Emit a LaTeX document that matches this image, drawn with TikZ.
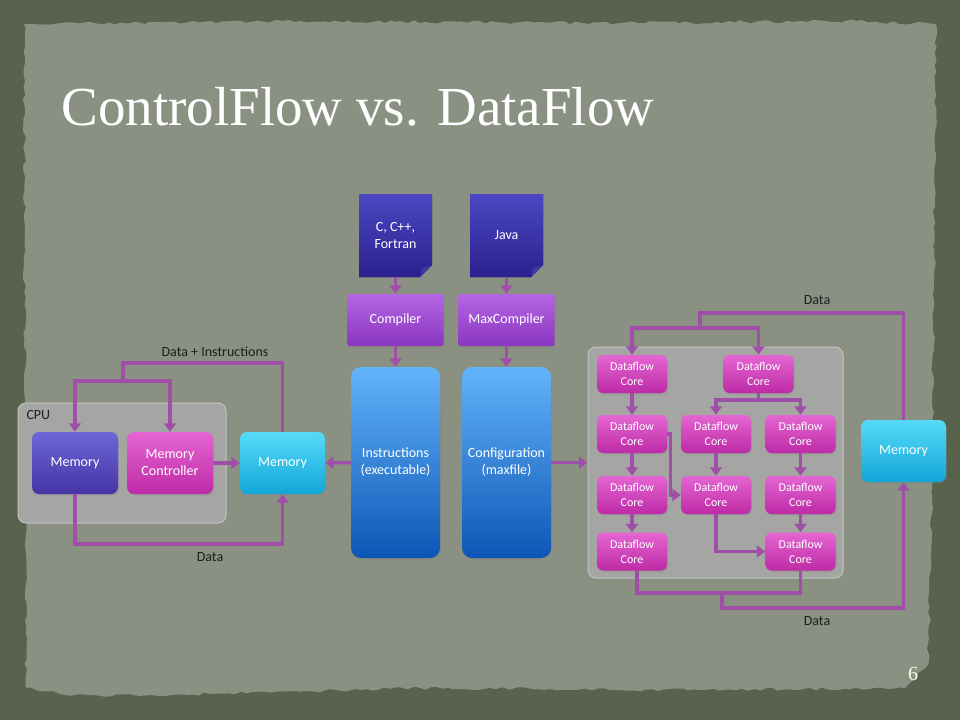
\documentclass[tikz,border=0pt]{standalone}
\usepackage{fontspec}
\setmainfont{Carlito}
\newfontfamily\titlefont{Liberation Serif}
\usepackage{tikz}
\usetikzlibrary{arrows.meta,calc,shadows,decorations.pathmorphing}
\definecolor{slate}{HTML}{58624C}
\definecolor{paper}{HTML}{8A9183}
\definecolor{flowpurple}{HTML}{A04FA8}
\definecolor{grpfill}{HTML}{A5A6A3}
\definecolor{grpline}{HTML}{C2C3C0}
\definecolor{labeltext}{HTML}{1E1E1E}
\definecolor{memT}{HTML}{6C66D6}
\definecolor{memB}{HTML}{4534A6}
\definecolor{pinkT}{HTML}{E466D2}
\definecolor{pinkB}{HTML}{BE2AA6}
\definecolor{cyanT}{HTML}{56DAF8}
\definecolor{cyanB}{HTML}{12A6D8}
\definecolor{docT}{HTML}{4C48C2}
\definecolor{docB}{HTML}{2A208E}
\definecolor{docF}{HTML}{3E38A8}
\definecolor{compT}{HTML}{B466E2}
\definecolor{compB}{HTML}{8A36C0}
\definecolor{exeT}{HTML}{62B4FA}
\definecolor{exeB}{HTML}{0E56B6}

\begin{document}
\begin{tikzpicture}[x=1pt,y=-1pt,
  font=\fontsize{14}{17}\selectfont,
  >={Triangle[width=12pt,length=8.5pt]},
  link/.style={draw=flowpurple, line width=3.2pt},
  lbl/.style={text=labeltext},
  group/.style={fill=grpfill, draw=grpline, line width=1pt, rounded corners=8pt},
  box/.style={rounded corners=7pt, text=white, align=center,
    minimum width=86pt, minimum height=62pt,
    drop shadow={shadow xshift=1pt,shadow yshift=-1.5pt,opacity=.3}},
  memory/.style={box, top color=memT, bottom color=memB},
  ctrl/.style={box, top color=pinkT, bottom color=pinkB},
  store/.style={box, top color=cyanT, bottom color=cyanB, minimum width=85pt},
  core/.style={box, top color=pinkT, bottom color=pinkB, minimum width=70pt,
    minimum height=38pt, rounded corners=6pt, font=\fontsize{12}{15}\selectfont},
  compiler/.style={box, top color=compT, bottom color=compB, rounded corners=2pt,
    minimum width=96pt, minimum height=52pt},
  binary/.style={box, top color=exeT, bottom color=exeB, rounded corners=10pt,
    minimum width=89pt, minimum height=191pt},
  srcfile/.style={minimum width=73pt, minimum height=83pt, text=white, align=center,
    path picture={
      \fill[top color=docT, bottom color=docB] (path picture bounding box.north west)
        -- (path picture bounding box.north east)
        -- ([yshift=12pt]path picture bounding box.south east)
        -- ([xshift=-12pt]path picture bounding box.south east)
        -- (path picture bounding box.south west) -- cycle;
      \fill[docF] ([yshift=12pt]path picture bounding box.south east)
        -- ([xshift=-12pt]path picture bounding box.south east)
        -- ([xshift=-10pt,yshift=9pt]path picture bounding box.south east) -- cycle;}}
]
\useasboundingbox (0,0) rectangle (960,720);
\pgfmathsetseed{11}
\fill[slate] (0,0) rectangle (960,720);
\fill[paper, decorate, decoration={random steps, segment length=6pt, amplitude=1.6pt}]
  (24,24) -- (300,21) -- (620,23) -- (845,21) -- (936,24) -- (934,300)
  -- (931,560) -- (928,665) -- (905,688) -- (700,690) -- (420,688)
  -- (140,696) -- (60,694) -- (26,688) -- (25,400) -- cycle;

\node (title) [anchor=base west, text=white, font=\titlefont\fontsize{55}{60}\selectfont]
  at (58,125) {ControlFlow vs. DataFlow};

\node (cpu) [group, minimum width=208pt, minimum height=120pt] at (122,463) {};
\node (cpulbl) [lbl, anchor=west] at (23,415) {CPU};
\node (mem1) [memory] at (75,463) {Memory};
\node (memctl) [ctrl] at (170,463) {Memory\\Controller};
\node (mem2) [store] at (282.5,463) {Memory};

\node (srcC) [srcfile] at (395.5,235.5) {C, C++,\\Fortran};
\node (srcJ) [srcfile] at (506.5,235.5) {Java};
\node (comp) [compiler] at (395.5,320) {Compiler};
\node (maxc) [compiler] at (506.5,320) {MaxCompiler};
\node (instr) [binary] at (395.5,462.5) {Instructions\\(executable)};
\node (config) [binary] at (506.5,462.5) {Configuration\\(maxfile)};

\node (dfe) [group, minimum width=255pt, minimum height=231pt] at (715.5,462.5) {};
\node (c11) [core] at (632,374) {Dataflow\\Core};
\node (c12) [core] at (632,434) {Dataflow\\Core};
\node (c13) [core] at (632,495) {Dataflow\\Core};
\node (c14) [core] at (632,551.5) {Dataflow\\Core};
\node (c0) [core] at (758.5,374) {Dataflow\\Core};
\node (c22) [core] at (716,434) {Dataflow\\Core};
\node (c23) [core] at (716,495) {Dataflow\\Core};
\node (c32) [core] at (800.5,434) {Dataflow\\Core};
\node (c33) [core] at (800.5,495) {Dataflow\\Core};
\node (c34) [core] at (800.5,551.5) {Dataflow\\Core};
\node (mem3) [store] at (903.5,451) {Memory};

\coordinate (ltop) at (123,363);
\coordinate (lsplit) at (123,381);
\coordinate (lbot) at (180,544);
\coordinate (rtop) at (700,313);
\coordinate (rsplit) at (700,328);
\coordinate (msplit) at (758.5,400);
\coordinate (rbot) at (722,593);
\coordinate (rlow) at (815,608);

\draw[link] (mem2.north) |- (ltop) -- (lsplit);
\draw[link,->] (lsplit) -| (mem1.north);
\draw[link,->] (lsplit) -| (memctl.north);
\draw[link,->] (mem1.south) |- (lbot) -| (mem2.south);
\draw[link,->] (memctl) -- (mem2);
\draw[link,->] (instr) -- (mem2);
\node (lblDI) [lbl] at (215,352) {Data + Instructions};
\node (lblD1) [lbl] at (210,557) {Data};

\draw[link,->] (srcC) -- (comp);
\draw[link,->] (comp) -- (instr);
\draw[link,->] (srcJ) -- (maxc);
\draw[link,->] (maxc) -- (config);
\draw[link,->] (config) -- (dfe);

\draw[link] (mem3.north) |- (rtop) -- (rsplit);
\draw[link,->] (rsplit) -| (c11.north);
\draw[link,->] (rsplit) -| (c0.north);
\draw[link,->] (c11) -- (c12);
\draw[link,->] (c12) -- (c13);
\draw[link,->] (c13) -- (c14);
\draw[link,->] (c12.east) -- ++(3,0) |- (c23.west);
\draw[link] (c0.south) -- (msplit);
\draw[link,->] (msplit) -| (c22.north);
\draw[link,->] (msplit) -| (c32.north);
\draw[link,->] (c22) -- (c23);
\draw[link,->] (c32) -- (c33);
\draw[link,->] (c33) -- (c34);
\draw[link,->] (c23.south) |- (c34.west);
\draw[link] ([xshift=5pt]c14.south) |- (rbot) -| (c34.south);
\draw[link,->] (rbot) |- (rlow) -| (mem3.south);
\node (lblD2) [lbl] at (817,300) {Data};
\node (lblD3) [lbl] at (817,621) {Data};

\node (pagenum) [text=white!90!yellow, font=\titlefont\fontsize{20}{22}\selectfont] at (913,674) {6};
\end{tikzpicture}
\end{document}
